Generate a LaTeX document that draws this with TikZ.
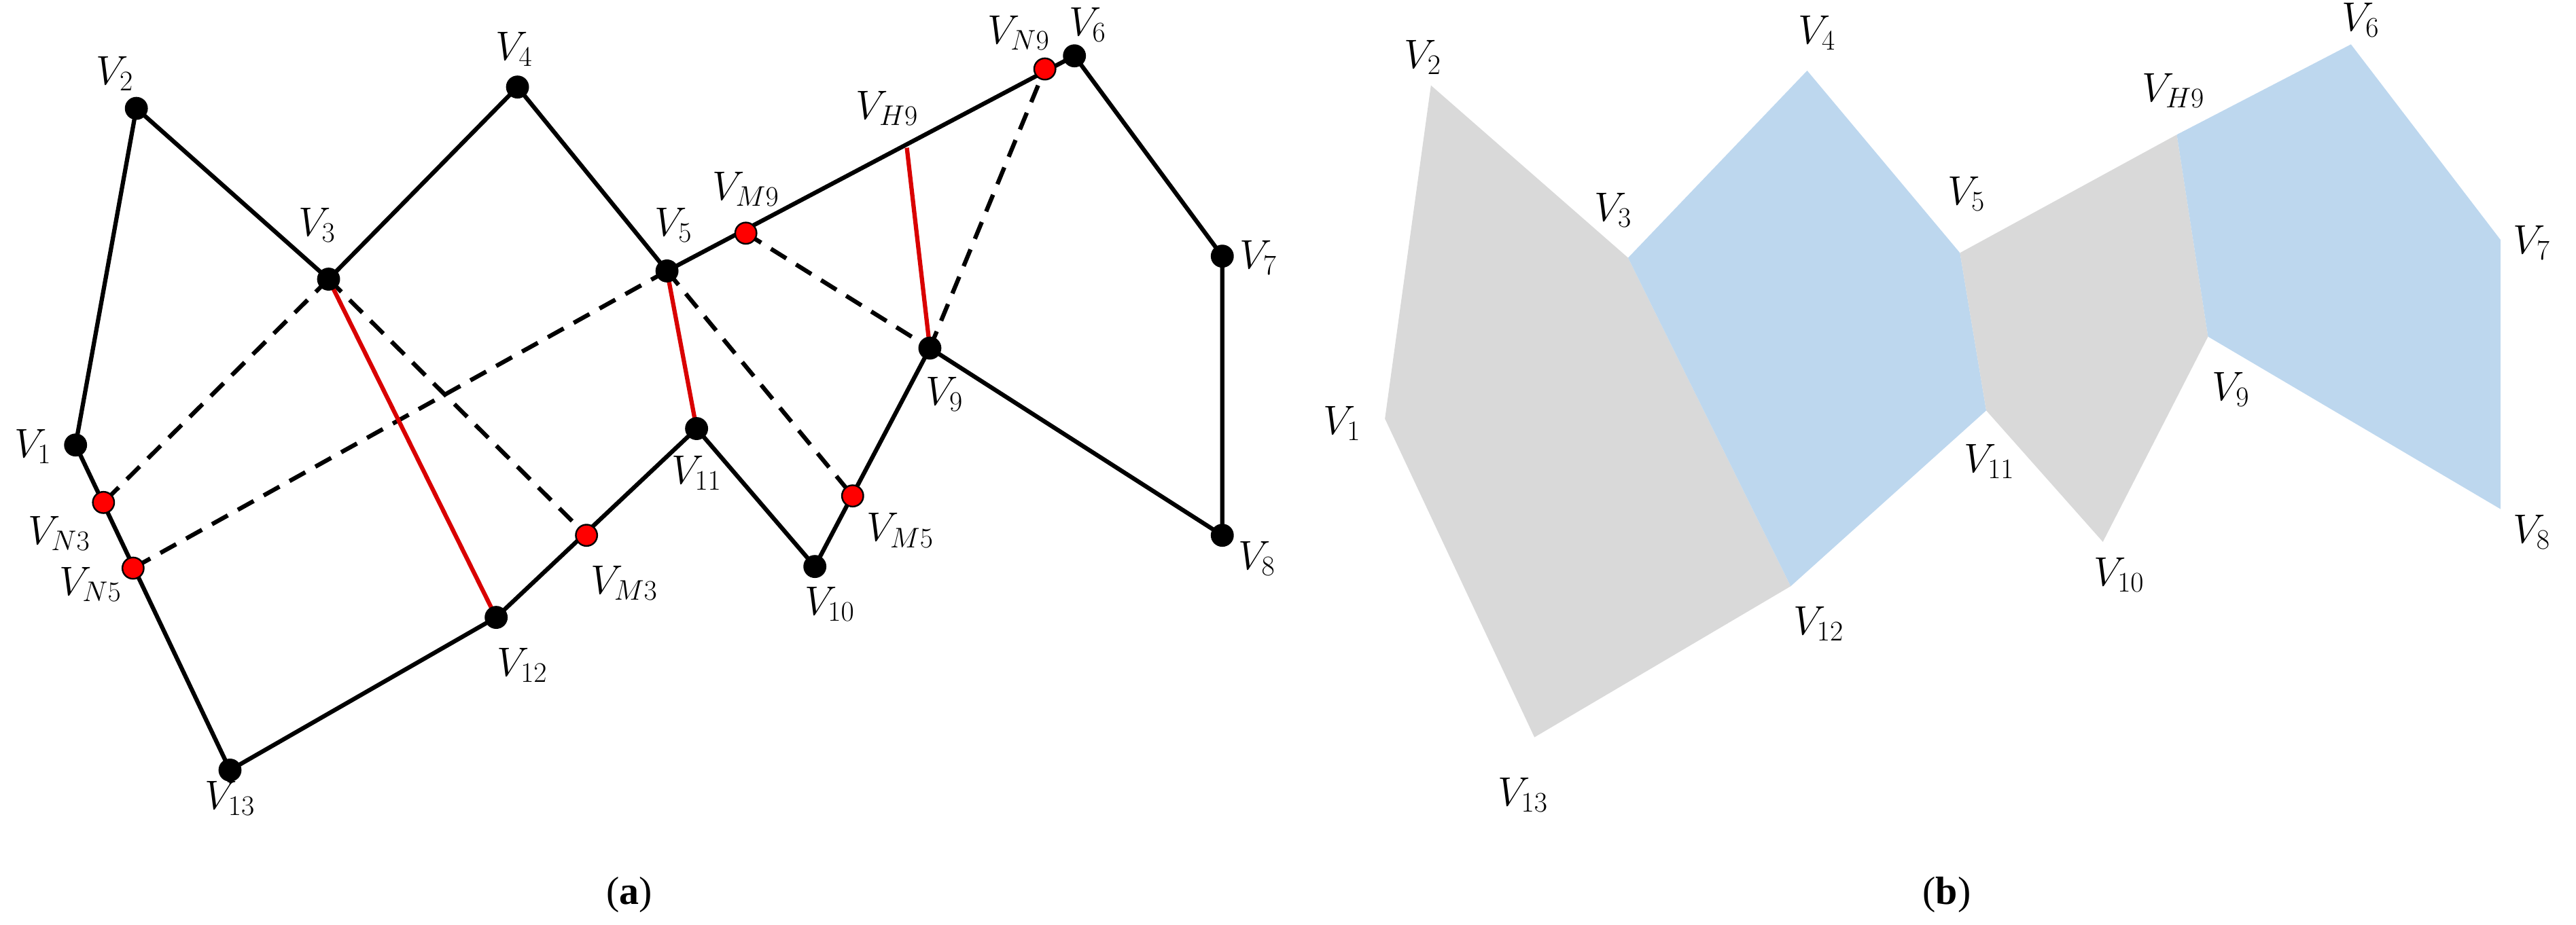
\documentclass[tikz,border=0pt]{standalone}
\usepackage{fontspec}
\setmainfont{Liberation Serif}
\tikzset{
  edge/.style={black, line width=2.6pt},
  dashedge/.style={black, line width=2.6pt, dash pattern=on 11pt off 7pt},
  rededge/.style={red!85!black, line width=2.6pt},
  dot/.style={circle, fill=black, draw=black, line width=1pt, minimum size=13pt, inner sep=0pt},
  rdot/.style={dot, fill=red},
  lbl/.style={font=\fontsize{25}{28}\selectfont, inner sep=0pt},
  captxt/.style={font=\fontsize{24}{28}\selectfont, inner sep=0pt},
  grayface/.style={fill=black!15, draw=none},
  blueface/.style={fill={rgb,255:red,189;green,215;blue,238}, draw=none}
}
\begin{document}
\begin{tikzpicture}[x=1pt,y=-1pt]
\useasboundingbox (0,0) rectangle (1568,563);
% (a) vertices
\coordinate (v1) at (46,271);   \coordinate (v2) at (83,66);
\coordinate (v3) at (200,170);  \coordinate (v4) at (315,53);
\coordinate (v5) at (406,165);  \coordinate (v6) at (654,34);
\coordinate (v7) at (744,156);  \coordinate (v8) at (744,326);
\coordinate (v9) at (566,212);  \coordinate (v10) at (496,345);
\coordinate (v11) at (424,261); \coordinate (v12) at (302,376);
\coordinate (v13) at (140,469);
\coordinate (n3) at (63,306);   \coordinate (n5) at (81,346);
\coordinate (m3) at (357,326);  \coordinate (m5) at (519,302);
\coordinate (m9) at (454,142);  \coordinate (h9) at (552,90);
\coordinate (n9) at (636,42);
% edges
\draw [edge] (v1) -- (v2) -- (v3) -- (v4) -- (v5) -- (v6) -- (v7) -- (v8) -- (v9)
  -- (v10) -- (v11) -- (v12) -- (v13) -- (v1);
\draw [dashedge] (v3) -- (n3);
\draw [dashedge] (v5) -- (n5);
\draw [dashedge] (v3) -- (m3);
\draw [dashedge] (v5) -- (m5);
\draw [dashedge] (m9) -- (v9);
\draw [dashedge] (v9) -- (n9);
\draw [rededge] (v3) -- (v12);
\draw [rededge] (v5) -- (v11);
\draw [rededge] (h9) -- (v9);
\foreach \p in {v1,v2,v3,v4,v5,v6,v7,v8,v9,v10,v11,v12,v13}
  \node [dot] at (\p) {};
\foreach \p in {n3,n5,m3,m5,m9,n9}
  \node [rdot] at (\p) {};
% labels (a)
\node [lbl] (l1) at (20,272) {$V_{1}$};
\node [lbl] (l2) at (70,45) {$V_{2}$};
\node [lbl] (l3) at (193,137) {$V_{3}$};
\node [lbl] (l4) at (313,30) {$V_{4}$};
\node [lbl] (l5) at (410,137) {$V_{5}$};
\node [lbl] (l6) at (662,15) {$V_{6}$};
\node [lbl] (l7) at (766,157) {$V_{7}$};
\node [lbl] (l8) at (765,340) {$V_{8}$};
\node [lbl] (l9) at (575,240) {$V_{9}$};
\node [lbl] (l10) at (505,368) {$V_{10}$};
\node [lbl] (l11) at (424,288) {$V_{11}$};
\node [lbl] (l12) at (318,405) {$V_{12}$};
\node [lbl] (l13) at (140,486) {$V_{13}$};
\node [lbl] (ln3) at (36,325) {$V_{N3}$};
\node [lbl] (ln5) at (55,356) {$V_{N5}$};
\node [lbl] (lm3) at (380,355) {$V_{M3}$};
\node [lbl] (lm5) at (548,323) {$V_{M5}$};
\node [lbl] (lm9) at (454,115) {$V_{M9}$};
\node [lbl] (lh9) at (540,66) {$V_{H9}$};
\node [lbl] (ln9) at (620,20) {$V_{N9}$};
\node [captxt] (capa) at (383,545) {(\textbf{a})};
% (b) faces
\fill [grayface] (843,255) -- (871,52) -- (991,157) -- (1090,357) -- (934,449) -- cycle;
\fill [blueface] (991,157) -- (1100,43) -- (1193,154) -- (1209,250) -- (1090,357) -- cycle;
\fill [grayface] (1193,154) -- (1325,82) -- (1344,205) -- (1280,330) -- (1209,250) -- cycle;
\fill [blueface] (1325,82) -- (1431,27) -- (1522,146) -- (1522,310) -- (1344,205) -- cycle;
% labels (b)
\node [lbl] (r1) at (817,258) {$V_{1}$};
\node [lbl] (r2) at (866,35) {$V_{2}$};
\node [lbl] (r3) at (982,128) {$V_{3}$};
\node [lbl] (r4) at (1106,20) {$V_{4}$};
\node [lbl] (r5) at (1197,118) {$V_{5}$};
\node [lbl] (r6) at (1437,12) {$V_{6}$};
\node [lbl] (r7) at (1541,148) {$V_{7}$};
\node [lbl] (r8) at (1541,324) {$V_{8}$};
\node [lbl] (r9) at (1358,237) {$V_{9}$};
\node [lbl] (r10) at (1290,350) {$V_{10}$};
\node [lbl] (r11) at (1211,281) {$V_{11}$};
\node [lbl] (r12) at (1107,380) {$V_{12}$};
\node [lbl] (r13) at (927,484) {$V_{13}$};
\node [lbl] (rh9) at (1323,55) {$V_{H9}$};
\node [captxt] (capb) at (1185,545) {(\textbf{b})};
\end{tikzpicture}
\end{document}
